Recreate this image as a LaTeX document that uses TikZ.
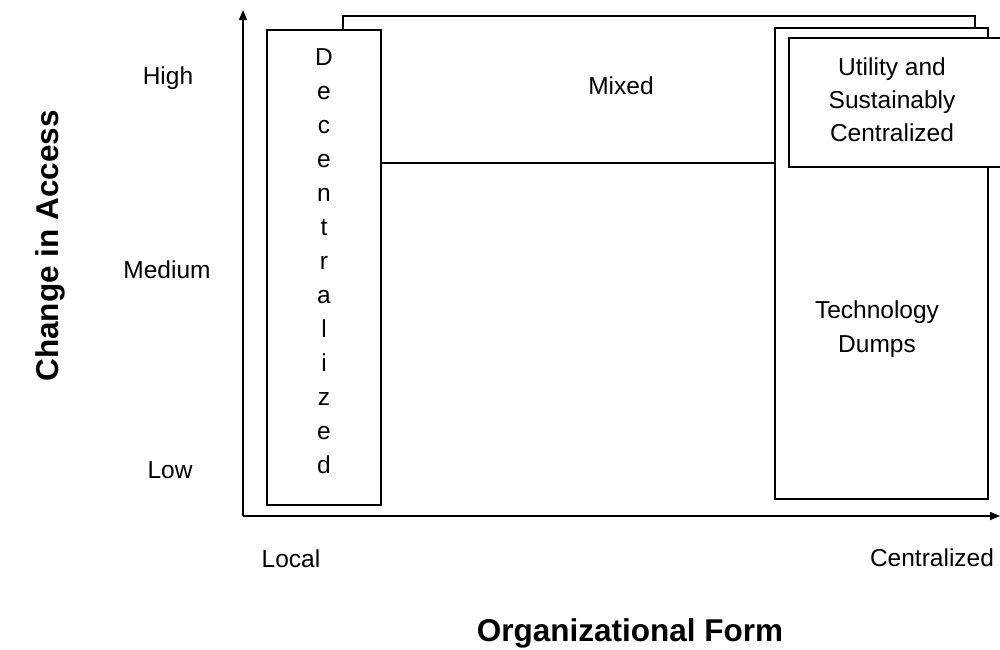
\documentclass[tikz,border=0pt]{standalone}
\usepackage{fontspec}
\setmainfont{Liberation Sans}
\usetikzlibrary{arrows.meta}

\begin{document}
\begin{tikzpicture}[x=1pt,y=-1pt,
  box/.style={draw,fill=white,line width=1.4pt,inner sep=0pt},
  lbl/.style={font=\fontsize{24.5}{33}\selectfont,align=center,inner sep=0pt},
  ttl/.style={font=\fontsize{31.5}{38}\selectfont\bfseries,inner sep=0pt},
  axis/.style={line width=1.4pt,-{Triangle[length=10pt,width=8pt]}}]
 \useasboundingbox (0,0) rectangle (1000,649);
 % axes
 \coordinate (o) at (243,516);
 \coordinate (ytop) at (243,10);
 \coordinate (xend) at (1000,516);
 \draw[axis] (o) -- (ytop);
 \draw[axis] (o) -- (xend);
 % regions
 \node[box,minimum width=632,minimum height=147] (mixedbox) at (659,89.5) {};
 \node[box,minimum width=114,minimum height=475] (decbox) at (324,267.5) {};
 \node[box,minimum width=213,minimum height=471] (techbox) at (881.5,263.5) {};
 \node[box,minimum width=213,minimum height=129] (utilbox) at (895.5,102.5) {};
 \node[lbl] (mixed) at (621,86) {Mixed};
 \node[lbl,font=\fontsize{24.5}{34}\selectfont] (dec) at (324,261)
   {D\\e\\c\\e\\n\\t\\r\\a\\l\\i\\z\\e\\d};
 \node[lbl,font=\fontsize{24.5}{34}\selectfont] (tech) at (877,329) {Technology\\Dumps};
 \node[lbl,font=\fontsize{24.5}{33}\selectfont] (util) at (892,100)
   {Utility and\\Sustainably\\Centralized};
 % tick labels
 \node[lbl] (high) at (168,78) {High};
 \node[lbl] (medium) at (167,270) {Medium};
 \node[lbl] (low) at (170,470) {Low};
 \node[lbl] (local) at (291,559) {Local};
 \node[lbl] (central) at (932,558) {Centralized};
 % axis titles
 \node[ttl,rotate=90] (ytitle) at (50,246) {Change in Access};
 \node[ttl,anchor=base] (xtitle) at (630,641) {Organizational Form};
\end{tikzpicture}
\end{document}
